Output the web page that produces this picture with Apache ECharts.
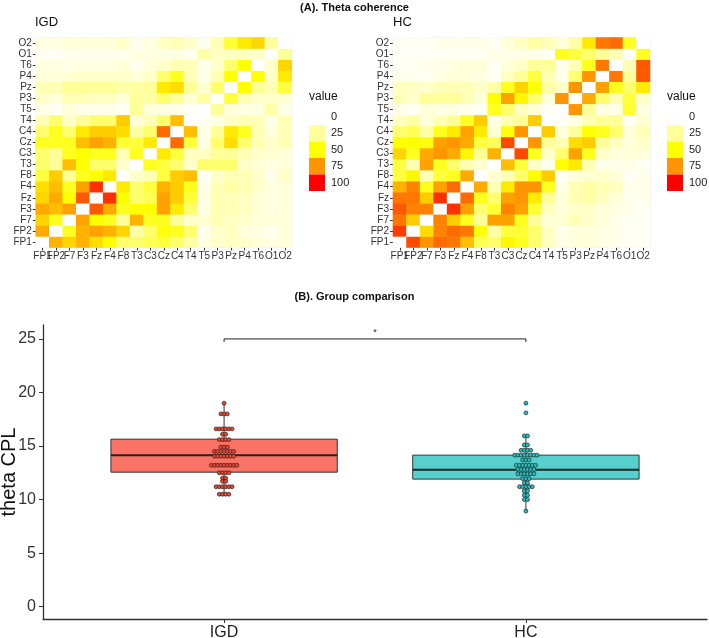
<!DOCTYPE html>
<html><head><meta charset="utf-8">
<script src="https://cdn.jsdelivr.net/npm/echarts@6/dist/echarts.min.js"></script>
<style>html,body{margin:0;padding:0;background:#fff}#c{width:709px;height:638px}</style>
</head><body><div id="c"></div>
<script>
// ---------- data ----------
const channels = ['FP1','FP2','F7','F3','Fz','F4','F8','T3','C3','Cz','C4','T4','T5','P3','Pz','P4','T6','O1','O2'];

// rows from FP1 (bottom) to O2 (top); columns FP1..O2
const igdRows = [
  [0,68,60,68,58,50,32,32,36,40,32,22,7,13,15,13,9,7,9],
  [70,0,45,68,72,68,60,22,32,48,45,32,5,13,15,9,7,5,9],
  [60,45,0,72,50,45,25,68,45,45,25,13,11,18,15,13,9,9,9],
  [70,65,72,0,85,70,45,50,50,72,55,32,7,18,18,15,11,7,9],
  [60,70,50,85,0,92,50,32,36,72,62,40,7,18,18,15,11,7,9],
  [58,65,45,72,92,0,55,32,40,68,62,45,6,18,22,18,13,7,9],
  [40,62,25,45,50,55,0,13,18,40,62,65,3,13,18,18,13,5,13],
  [32,25,65,50,32,32,13,0,45,40,32,13,32,32,32,13,11,7,9],
  [32,25,45,50,45,45,18,45,0,55,40,15,15,25,25,18,13,11,9],
  [45,45,45,65,72,68,42,40,55,0,82,40,7,32,58,32,18,13,18],
  [32,45,32,55,62,62,58,22,32,82,0,65,6,25,55,45,18,9,18],
  [18,32,13,25,32,32,62,9,18,32,65,0,3,7,13,18,18,6,18],
  [6,3,9,6,5,5,3,25,9,7,6,3,0,25,9,7,7,22,6],
  [13,9,18,18,15,15,9,25,22,32,25,11,22,0,40,18,13,13,11],
  [18,18,25,25,25,25,22,22,25,55,58,25,11,32,0,50,25,18,40],
  [9,9,11,13,13,13,13,9,13,32,45,18,6,18,50,0,50,13,55],
  [7,7,6,7,7,7,9,5,9,13,18,18,5,13,32,50,0,13,60],
  [3,3,5,5,5,5,5,7,7,7,7,5,22,15,15,15,13,0,25],
  [7,7,9,9,9,9,13,5,7,15,18,13,5,18,42,55,60,25,0]
];

const hcRows = [
  [0,88,75,82,80,65,36,32,52,45,32,15,6,9,9,7,5,3,3],
  [90,0,58,78,82,80,48,22,40,42,32,15,5,9,9,7,6,3,3],
  [80,62,0,78,62,45,25,72,72,45,25,9,11,18,13,9,5,3,3],
  [85,78,78,0,92,72,32,42,78,72,42,15,9,13,13,9,7,5,3],
  [80,80,62,92,0,82,45,32,72,75,55,25,9,18,22,15,9,5,5],
  [68,78,45,72,82,0,70,18,55,75,75,45,6,18,22,18,15,5,5],
  [40,52,18,40,45,70,0,11,18,32,50,62,3,9,11,13,9,3,5],
  [40,18,72,45,32,18,11,0,65,40,13,5,50,55,18,5,5,6,3],
  [60,45,70,75,70,52,25,68,0,88,45,13,32,72,45,13,9,9,9],
  [50,50,48,72,75,70,40,36,88,0,75,25,18,58,62,25,15,9,13],
  [32,36,22,45,55,72,55,11,48,75,0,62,9,25,50,45,32,9,18],
  [15,22,9,18,25,45,62,7,18,25,62,0,3,7,18,25,25,3,11],
  [6,3,9,7,7,5,3,45,32,15,9,3,0,75,25,7,6,42,7],
  [18,13,25,25,25,18,9,50,72,52,32,9,75,0,70,32,18,40,13],
  [15,15,13,18,18,18,13,22,45,60,50,22,13,75,0,72,45,32,55],
  [5,5,3,7,9,9,7,3,15,25,40,18,6,32,75,0,80,25,85],
  [3,3,5,6,7,9,9,3,9,13,25,25,5,18,45,80,0,18,85],
  [2,2,2,3,3,3,3,6,6,6,5,3,45,40,32,25,18,0,45],
  [3,3,3,5,5,6,6,3,9,15,22,18,9,22,55,80,82,45,0]
];

const legendLevels = [0,25,50,75,100];

const groups = ['IGD','HC'];
// individual theta CPL values (one per participant)
const igdCPL = [
  19.0,
  18.0,18.0,18.0,
  16.6,16.6,16.6,16.6,16.6,16.6,
  16.1,16.1,
  15.6,15.6,15.6,15.6,
  14.9,14.9,14.9,
  14.5,14.5,14.5,14.5,14.5,14.5,14.5,
  14.05,14.05,14.05,14.05,14.05,14.05,14.05,
  13.2,13.2,13.2,13.2,13.2,13.2,13.2,13.2,13.2,
  12.5,12.5,12.5,12.5,
  12.0,12.0,
  11.7,11.7,
  11.2,11.2,11.2,11.2,11.2,11.2,
  10.5,10.5,10.5,10.5
];
const hcCPL = [
  19.0,
  18.1,
  15.95,15.95,
  15.1,15.1,
  14.6,14.6,14.6,14.6,
  14.15,14.15,14.15,14.15,14.15,14.15,14.15,14.15,
  13.7,13.7,13.7,
  13.2,13.2,13.2,13.2,13.2,13.2,13.2,
  12.8,12.8,12.8,12.8,12.8,12.8,
  12.4,12.4,12.4,12.4,12.4,12.4,
  11.95,11.95,11.95,
  11.55,11.55,
  11.2,11.2,11.2,11.2,11.2,
  10.8,10.8,
  10.4,10.4,
  10.0,10.0,
  8.93
];
// [lower whisker, Q1, median, Q3, upper whisker]
const igdBox = [10.5, 12.56, 14.15, 15.64, 19.0];
const hcBox  = [8.93, 11.91, 12.78, 14.15, 15.95];
const yTicks = [0,5,10,15,20,25];
const sigY = 25;
const sigLabel = '*';

// ---------- styles ----------
const FONT = 'Liberation Sans, Arial, sans-serif';
const scaleColors = ['#FFFFFF','#FFFF99','#FFFF00','#FF9500','#FF0000'];
const boxFill = ['#FA7366','#55D0CC'];
const dotFill = ['#F2442F','#1EC2C2'];
const DOT = 3.2;

function heatData(rows){
  const out = [];
  rows.forEach((row, r) => row.forEach((v, c) => out.push([c, r, v])));
  return out;
}
function dotData(values, xi){
  const counts = {}, order = [];
  values.forEach(v => { if(!(v in counts)){counts[v]=0; order.push(v);} counts[v]++; });
  const out = [];
  order.forEach(v => {
    const n = counts[v];
    for(let k=0;k<n;k++){
      out.push({value:[xi, v], symbolOffset:[(k-(n-1)/2)*DOT, 0]});
    }
  });
  return out;
}

const chart = echarts.init(document.getElementById('c'), null, {renderer:'canvas'});

function hmAxis(gi){ return {
  type:'category', gridIndex:gi, data:channels,
  axisLine:{show:false},
  axisTick:{show:true, alignWithLabel:true, length:3, lineStyle:{color:'#333'}},
  axisLabel:{interval:0, fontSize:10, color:'#333', margin:4, fontFamily:FONT},
  splitLine:{show:false}
};}
function legendVM(left){ return {
  type:'piecewise', seriesIndex:[2], orient:'vertical', inverse:true, align:'left',
  left:left, top:108.5, padding:0,
  itemWidth:16, itemHeight:16.5, itemGap:0, itemSymbol:'rect', textGap:6,
  selectedMode:false, hoverLink:false,
  textStyle:{fontSize:11, color:'#222', fontFamily:FONT},
  pieces: legendLevels.map((v,i)=>({value:v, label:String(v), color:scaleColors[i]}))
};}

const option = {
  backgroundColor:'#fff',
  animation:false,
  textStyle:{fontFamily:FONT},
  title:[
    {text:'(A). Theta coherence', left:'center', top:2, padding:0, textStyle:{fontSize:11, fontWeight:'bold', color:'#111', fontFamily:FONT}},
    {text:'IGD', left:35, top:16, padding:0, textStyle:{fontSize:13, fontWeight:'normal', color:'#111', fontFamily:FONT}},
    {text:'HC', left:393, top:16, padding:0, textStyle:{fontSize:13, fontWeight:'normal', color:'#111', fontFamily:FONT}},
    {text:'value', left:309, top:91, padding:0, textStyle:{fontSize:12, fontWeight:'normal', color:'#111', fontFamily:FONT}},
    {text:'value', left:667, top:91, padding:0, textStyle:{fontSize:12, fontWeight:'normal', color:'#111', fontFamily:FONT}},
    {text:'(B). Group comparison', left:'center', top:291, padding:0, textStyle:{fontSize:11, fontWeight:'bold', color:'#111', fontFamily:FONT}}
  ],
  grid:[
    {left:35.8, top:37.5, width:256, height:210, outerBoundsMode:'none', containLabel:false, show:true, borderColor:'#EBEBEB', borderWidth:1, backgroundColor:'#fff'},
    {left:393, top:37.5, width:257, height:210, outerBoundsMode:'none', containLabel:false, show:true, borderColor:'#EBEBEB', borderWidth:1, backgroundColor:'#fff'},
    {left:43, right:2, top:325, bottom:19, outerBoundsMode:'none', containLabel:false}
  ],
  xAxis:[
    hmAxis(0), hmAxis(1),
    {type:'value', gridIndex:2, min:0.4, max:2.6,
     axisLine:{show:true, onZero:false, lineStyle:{color:'#333', width:1.3}},
     axisTick:{show:true, customValues:[1,2], length:4, lineStyle:{color:'#333'}},
     axisLabel:{customValues:[1,2], formatter:v=>groups[Math.round(v)-1]||'', fontSize:16, color:'#222', margin:6, fontFamily:FONT},
     splitLine:{show:false}}
  ],
  yAxis:[
    hmAxis(0), hmAxis(1),
    {type:'value', gridIndex:2, min:-1.15, max:26.3,
     name:'theta CPL', nameLocation:'middle', nameGap:24, nameMoveOverlap:false,
     nameTextStyle:{fontSize:20, color:'#111', fontFamily:FONT},
     axisLine:{show:true, onZero:false, lineStyle:{color:'#333', width:1.3}},
     axisTick:{show:true, customValues:yTicks, length:4, lineStyle:{color:'#333'}},
     axisLabel:{customValues:yTicks, fontSize:16, color:'#333', margin:7, fontFamily:FONT},
     splitLine:{show:false}}
  ],
  visualMap:[
    {type:'continuous', show:false, seriesIndex:[0,1], min:0, max:100, inRange:{color:scaleColors}},
    legendVM(309),
    legendVM(667)
  ],
  series:[
    {type:'heatmap', xAxisIndex:0, yAxisIndex:0, data:heatData(igdRows), itemStyle:{borderWidth:0}},
    {type:'heatmap', xAxisIndex:1, yAxisIndex:1, data:heatData(hcRows), itemStyle:{borderWidth:0}},
    {type:'scatter', xAxisIndex:0, yAxisIndex:0, data:[], silent:true},
    {type:'custom', xAxisIndex:2, yAxisIndex:2,
     data: [[1].concat(igdBox), [2].concat(hcBox)],
     renderItem:function(params, api){
       const x = api.value(0);
       const lo = api.coord([x, api.value(1)]);
       const q1 = api.coord([x, api.value(2)]);
       const md = api.coord([x, api.value(3)]);
       const q3 = api.coord([x, api.value(4)]);
       const hi = api.coord([x, api.value(5)]);
       const w = api.size([0.75, 0])[0];
       const stroke = '#333';
       return {type:'group', children:[
         {type:'line', shape:{x1:hi[0],y1:hi[1],x2:q3[0],y2:q3[1]}, style:{stroke:stroke, lineWidth:1}},
         {type:'line', shape:{x1:q1[0],y1:q1[1],x2:lo[0],y2:lo[1]}, style:{stroke:stroke, lineWidth:1}},
         {type:'rect', shape:{x:q3[0]-w/2, y:q3[1], width:w, height:q1[1]-q3[1]}, style:{fill:boxFill[params.dataIndex], stroke:stroke, lineWidth:1}},
         {type:'line', shape:{x1:md[0]-w/2,y1:md[1],x2:md[0]+w/2,y2:md[1]}, style:{stroke:'#222', lineWidth:2}}
       ]};
     }},
    {type:'scatter', xAxisIndex:2, yAxisIndex:2, data:dotData(igdCPL,1), symbol:'circle', symbolSize:3.9,
     itemStyle:{color:dotFill[0], borderColor:'#222', borderWidth:0.7, opacity:1}},
    {type:'scatter', xAxisIndex:2, yAxisIndex:2, data:dotData(hcCPL,2), symbol:'circle', symbolSize:3.9,
     itemStyle:{color:dotFill[1], borderColor:'#222', borderWidth:0.7, opacity:1}},
    {type:'custom', xAxisIndex:2, yAxisIndex:2, data:[[1,2,sigY]],
     renderItem:function(params, api){
       const a = api.coord([api.value(0), api.value(2)]);
       const b = api.coord([api.value(1), api.value(2)]);
       return {type:'group', children:[
         {type:'polyline', shape:{points:[[a[0],a[1]+3],[a[0],a[1]],[b[0],b[1]],[b[0],b[1]+3]]}, style:{stroke:'#222', lineWidth:1, fill:null}},
         {type:'text', style:{x:(a[0]+b[0])/2, y:a[1]-2, text:sigLabel, fontSize:9, fill:'#222', align:'center', verticalAlign:'bottom', fontFamily:FONT}}
       ]};
     }}
  ]
};
chart.setOption(option);
</script>
</body></html>
